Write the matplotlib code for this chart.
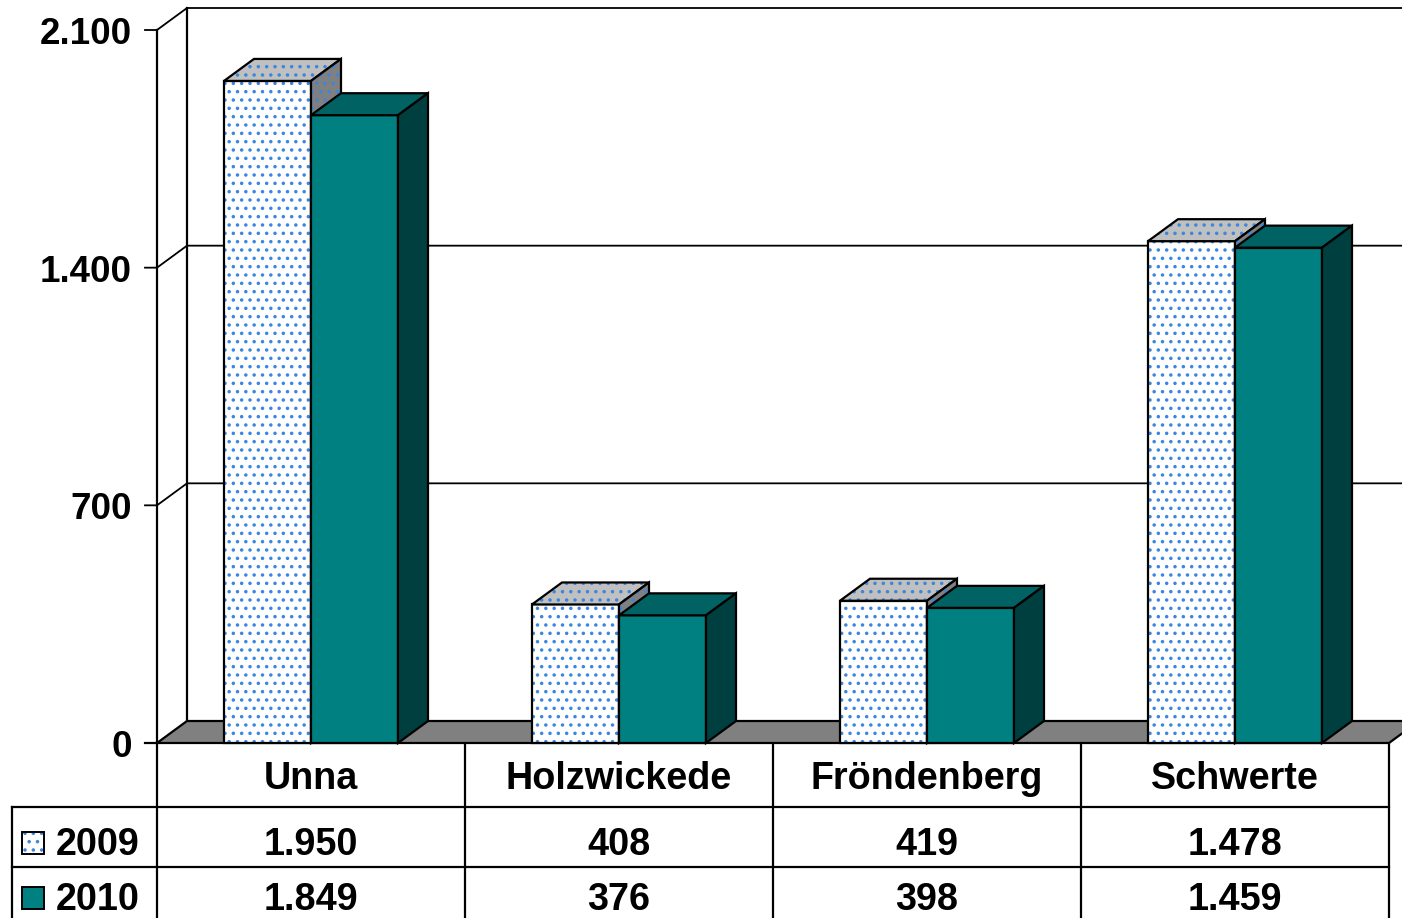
import matplotlib
matplotlib.use("Agg")
import matplotlib.pyplot as plt
from matplotlib.patches import Polygon, Rectangle

plt.rcParams['font.family'] = ['Liberation Sans', 'DejaVu Sans']
plt.rcParams['font.weight'] = 'bold'
plt.rcParams['hatch.linewidth'] = 1.3

# data
cities = ['Unna', 'Holzwickede', 'Fröndenberg', 'Schwerte']
years = ['2009', '2010']
v2009 = [1950, 408, 419, 1478]
v2010 = [1849, 376, 398, 1459]
yticks = [0, 700, 1400, 2100]

# colours
dot_blue = '#3a86e0'
teal_front, teal_top, teal_side = '#008080', '#006262', '#003f3f'
grey_top, grey_side = '#c0c0c0', '#808080'


def de(v):
    return f"{v:,}".replace(",", ".")


W, H = 1402, 918
fig = plt.figure(figsize=(W / 100, H / 100), dpi=100)

# plot area in pixels: front left/right, baseline and top
px_l, px_r, px_0, px_top = 157, 1389, 743, 30
ax = fig.add_axes([px_l / W, (H - px_0) / H, (px_r - px_l) / W, (px_0 - px_top) / H])
ax.set_xlim(-0.5, len(cities) - 0.5)
ax.set_ylim(0, 2100)
ax.axis('off')

# depth of the 3d effect in data units (30 px right, 22 px up)
xpp = len(cities) / (px_r - px_l)      # data units per pixel, x
ypp = 2100 / (px_0 - px_top)           # data units per pixel, y
DX, DY = 30 * xpp, 22 * ypp
TICK = 12 * xpp
xl, xr = -0.5, len(cities) - 0.5


def poly(pts, fc, z, dotted=False):
    if dotted:
        ax.add_patch(Polygon(pts, closed=True, facecolor=fc, edgecolor=dot_blue,
                             hatch='..', lw=0, zorder=z, clip_on=False))
        ax.add_patch(Polygon(pts, closed=True, facecolor='none', edgecolor='black',
                             lw=1.6, zorder=z, clip_on=False, joinstyle='miter'))
    else:
        ax.add_patch(Polygon(pts, closed=True, facecolor=fc, edgecolor='black',
                             lw=1.6, zorder=z, clip_on=False, joinstyle='miter'))


# back wall, grid and axis
for t in yticks[1:]:
    ax.plot([xl - TICK, xl, xl + DX, xr + DX + 1], [t, t, t + DY, t + DY],
            color='black', lw=1.3, zorder=1, clip_on=False)
ax.plot([xl + DX, xl + DX], [DY, 2100 + DY], color='black', lw=1.6, zorder=1, clip_on=False)
ax.plot([xl, xl], [0, 2100], color='black', lw=1.6, zorder=1, clip_on=False)
ax.plot([xl - TICK, xl], [0, 0], color='black', lw=1.6, zorder=1, clip_on=False)
for t in yticks:
    ax.text(xl - 25 * xpp, t - 14 * ypp, de(t), ha='right', va='baseline',
            fontsize=26.5, fontweight='bold')

# floor
poly([(xl, 0), (xr, 0), (xr + DX, DY), (xl + DX, DY)], grey_side, 2)

# bars
bw = 87 * xpp
for i in range(len(cities)):
    for k, (vals, fr, tp, sd, dotted) in enumerate([
            (v2009, 'white', grey_top, grey_side, True),
            (v2010, teal_front, teal_top, teal_side, False)]):
        x = i - bw + k * bw
        h = vals[i]
        z = 3 + i * 2 + k
        poly([(x, 0), (x + bw, 0), (x + bw, h), (x, h)], fr, z, dotted)
        poly([(x, h), (x + bw, h), (x + bw + DX, h + DY), (x + DX, h + DY)], tp, z, dotted)
        poly([(x + bw, 0), (x + bw + DX, DY), (x + bw + DX, h + DY), (x + bw, h)], sd, z, dotted)

# data table below, in pixel coordinates
tab = fig.add_axes([0, 0, 1, 1], zorder=-1)
tab.set_xlim(0, W)
tab.set_ylim(H, 0)
tab.axis('off')
col_w = (px_r - px_l) / len(cities)
rows = [px_0, 807, 867, 927]
baselines = [789, 855, 910]
for i in range(len(cities) + 1):
    tab.plot([px_l + i * col_w] * 2, [px_0, H], color='black', lw=1.6)
tab.plot([12, 12], [rows[1], H], color='black', lw=1.6)
for r in rows[1:3]:
    tab.plot([12, px_r], [r, r], color='black', lw=1.6)

fs = 27.2
for i, c in enumerate(cities):
    cx = px_l + (i + 0.5) * col_w
    tab.text(cx, baselines[0], c, ha='center', va='baseline', fontsize=fs)
    for j, vals in enumerate([v2009, v2010]):
        tab.text(cx, baselines[j + 1], de(vals[i]), ha='center',
                 va='baseline', fontsize=fs)

for j, (yr, fc) in enumerate(zip(years, ['white', teal_front])):
    top = baselines[j + 1] - 23
    if j == 0:
        tab.add_patch(Rectangle((22, top), 22, 22, facecolor='white',
                                edgecolor=dot_blue, hatch='..', lw=0))
    else:
        tab.add_patch(Rectangle((22, top), 22, 22, facecolor=fc, lw=0))
    tab.add_patch(Rectangle((22, top), 22, 22, facecolor='none',
                            edgecolor='black', lw=1.4))
    tab.text(56, baselines[j + 1], yr, ha='left', va='baseline', fontsize=fs)

fig.savefig('out.png', dpi=100)
